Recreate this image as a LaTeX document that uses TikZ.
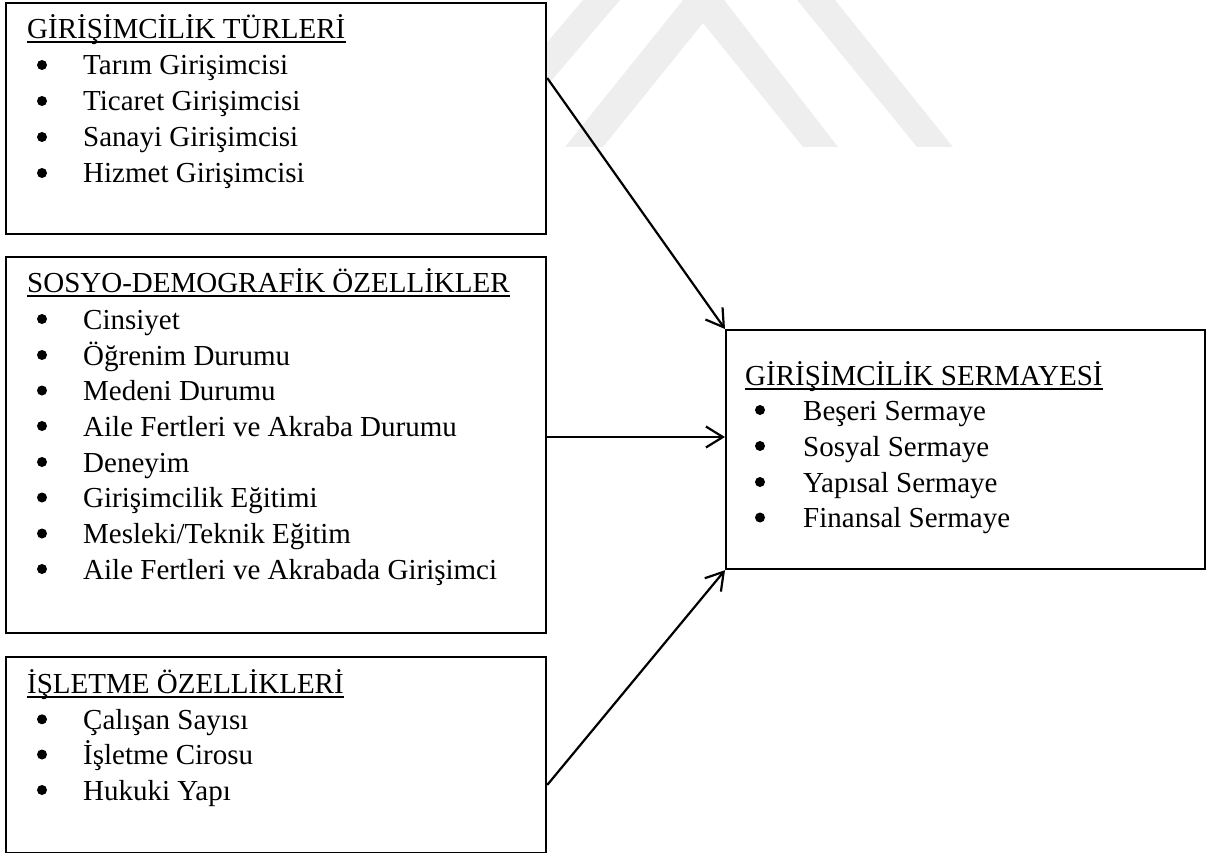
\documentclass[tikz,border=0pt]{standalone}
\usepackage{fontspec}
\setmainfont{Liberation Serif}
\usetikzlibrary{arrows.meta,calc}
\definecolor{wmgray}{RGB}{238,238,238}
\tikzset{
  frame/.style={draw=black, line width=2.2pt, fill=white, inner sep=0pt, anchor=north west},
  heading/.style={anchor=base west, inner sep=0pt, font=\fontsize{29pt}{35pt}\selectfont},
  entry/.style={anchor=base west, inner sep=0pt, font=\fontsize{29pt}{35pt}\selectfont},
  link/.style={line width=2.2pt, -{Straight Barb[length=17pt,width=21pt]}},
  rule/.style={line width=2pt},
  dot/.style={fill=black},
}
% underline under a heading node
\newcommand{\headrule}[1]{\draw[rule] ([yshift=-3.5pt]#1.base west) -- ([yshift=-3.5pt]#1.base east);}
% bullet placed left of an entry whose baseline is at y
\newcommand{\bulletat}[2]{\fill[dot] (#1,#2-10) circle (5);}

\begin{document}
\begin{tikzpicture}[x=1pt,y=-1pt]
\useasboundingbox (0,0) rectangle (1210,853);

% light logo bands behind the boxes
\begin{scope}
  \clip (0,0) rectangle (1210,853);
  \fill[wmgray] (583,0) -- (620,0) -- (495,147) -- (458,147) -- cycle;
  \fill[wmgray] (565,147) -- (704,-26) -- (838,147) -- (803,147) -- (703,23) -- (603,147) -- cycle;
  \fill[wmgray] (797,0) -- (835,0) -- (953,147) -- (917,147) -- cycle;
\end{scope}

% boxes
\node[frame, minimum width=540pt, minimum height=231pt] (b1) at (5,2) {};
\node[frame, minimum width=540pt, minimum height=376pt] (b2) at (5,256) {};
\node[frame, minimum width=540pt, minimum height=196pt] (b3) at (5,656) {};
\node[frame, minimum width=479pt, minimum height=239pt] (rb) at (725,329) {};

% box 1
\node[heading] (h1) at (27,38.5) {GİRİŞİMCİLİK TÜRLERİ};
\headrule{h1}
\node[entry] (e11) at (83,75) {Tarım Girişimcisi};
\node[entry] (e12) at (83,111) {Ticaret Girişimcisi};
\node[entry] (e13) at (83,147) {Sanayi Girişimcisi};
\node[entry] (e14) at (83,183) {Hizmet Girişimcisi};
\foreach \y in {75,111,147,183} {\bulletat{42}{\y}}

% box 2
\node[heading] (h2) at (27,292.5) {SOSYO-DEMOGRAFİK ÖZELLİKLER};
\headrule{h2}
\node[entry] (e21) at (83,329) {Cinsiyet};
\node[entry] (e22) at (83,365) {Öğrenim Durumu};
\node[entry] (e23) at (83,400.5) {Medeni Durumu};
\node[entry] (e24) at (83,436) {Aile Fertleri ve Akraba Durumu};
\node[entry] (e25) at (83,472) {Deneyim};
\node[entry] (e26) at (83,507.5) {Girişimcilik Eğitimi};
\node[entry] (e27) at (83,543.5) {Mesleki/Teknik Eğitim};
\node[entry] (e28) at (83,579) {Aile Fertleri ve Akrabada Girişimci};
\foreach \y in {329,365,400.5,436,472,507.5,543.5,579} {\bulletat{42}{\y}}

% box 3
\node[heading] (h3) at (27,693.3) {İŞLETME ÖZELLİKLERİ};
\headrule{h3}
\node[entry] (e31) at (83,729.3) {Çalışan Sayısı};
\node[entry] (e32) at (83,764.5) {İşletme Cirosu};
\node[entry] (e33) at (83,800) {Hukuki Yapı};
\foreach \y in {729.3,764.5,800} {\bulletat{42}{\y}}

% result box
\node[heading] (h4) at (745,385) {GİRİŞİMCİLİK SERMAYESİ};
\headrule{h4}
\node[entry] (e41) at (803,420) {Beşeri Sermaye};
\node[entry] (e42) at (803,456) {Sosyal Sermaye};
\node[entry] (e43) at (803,492) {Yapısal Sermaye};
\node[entry] (e44) at (803,527.5) {Finansal Sermaye};
\foreach \y in {420,456,492,527.5} {\bulletat{760}{\y}}

% connectors
\coordinate (s1) at ($(b1.north east)+(0,76)$);
\coordinate (s2) at ($(b2.north east)+(0,181)$);
\coordinate (s3) at ($(b3.north east)+(0,129)$);
\draw[link] (s1) -- (rb.north west);
\draw[link] (s2) -- (s2 -| rb.west);
\draw[link] (s3) -- (rb.south west);
\end{tikzpicture}
\end{document}
